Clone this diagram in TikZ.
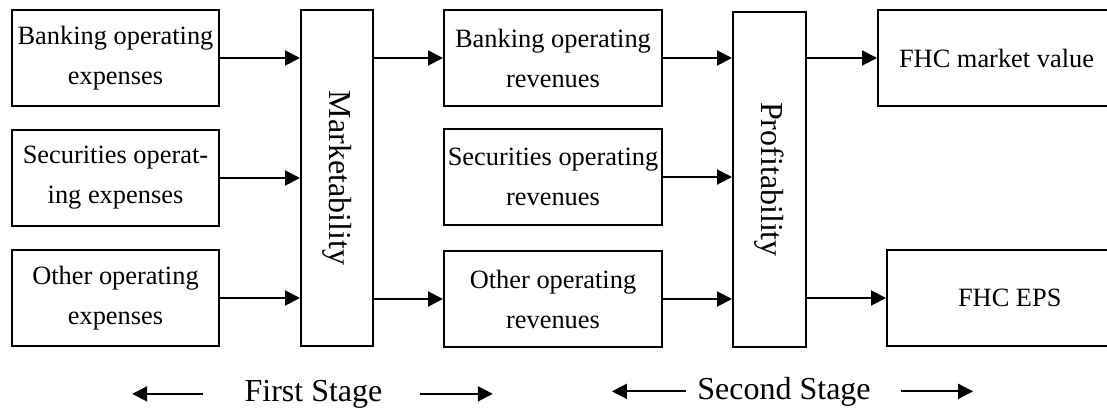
\documentclass[tikz,border=0pt]{standalone}
\usepackage{fontspec}
\usepackage{graphicx}
\setmainfont{Liberation Serif}
\usetikzlibrary{arrows.meta}
\tikzset{
	box/.style={draw, line width=1pt, inner sep=0pt, align=center, minimum height=48pt, font=\fontsize{13.2}{20}\selectfont},
	barbox/.style={draw, line width=1pt, inner sep=0pt, font=\fontsize{16}{19}\selectfont},
	flow/.style={line width=1pt, -{Triangle[length=7.5pt,width=7.5pt]}},
	stagelabel/.style={inner sep=0pt, anchor=base, font=\fontsize{16}{19}\selectfont},
}
\begin{document}
\begin{tikzpicture}[x=0.5pt,y=-0.5pt]
	\useasboundingbox (0,0) rectangle (1107,408);
	\clip (0,0) rectangle (1107,408);
	% inputs
	\node[box, minimum width=103.5pt] (bankexp) at (115.5,58) {Banking operating\\expenses};
	\node[box, minimum width=103.5pt] (secexp) at (115.5,178) {Securities operat-\\ing expenses};
	\node[box, minimum width=103.5pt] (othexp) at (115.5,298) {Other operating\\expenses};
	\node[barbox, minimum width=36pt, minimum height=168pt] (mkt) at (337,178) {\rotatebox{-90}{Marketability}};
	% intermediate outputs
	\node[box, minimum width=109pt] (bankrev) at (553,58) {Banking operating\\revenues};
	\node[box, minimum width=109pt] (secrev) at (553,177) {Securities operating\\revenues};
	\node[box, minimum width=109pt] (othrev) at (553,299) {Other operating\\revenues};
	\node[barbox, minimum width=36.5pt, minimum height=167.5pt] (prof) at (769.5,179.5) {\rotatebox{-90}{Profitability}};
	% final outputs (cut off at the right)
	\node[box, anchor=west, align=flush left, inner xsep=10.5pt, text width=119pt] (mktval) at (877,58) {FHC market value};
	\node[box, anchor=west, align=flush left, inner xsep=35.5pt, text width=69pt] (eps) at (886,298) {FHC EPS};
	% connectors
	\foreach \n in {bankexp, secexp, othexp}
		\draw[flow] (\n.east) -- (\n.east -| mkt.west);
	\foreach \n in {bankrev, othrev}
		\draw[flow] (mkt.east |- \n.west) -- (\n.west);
	\foreach \n in {bankrev, secrev, othrev}
		\draw[flow] (\n.east) -- (\n.east -| prof.west);
	\foreach \n in {mktval, eps}
		\draw[flow] (prof.east |- \n.west) -- (\n.west);
	% stages
	\node[stagelabel] (first) at (313.5,401) {First Stage};
	\node[stagelabel] (second) at (784,399) {Second Stage};
	\draw[flow] ([xshift=-20.5pt]first.west) -- ([xshift=-56pt]first.west);
	\draw[flow] ([xshift=18.5pt]first.east) -- ([xshift=55pt]first.east);
	\draw[flow] ([xshift=-5.5pt]second.west) -- ([xshift=-42.5pt]second.west);
	\draw[flow] ([xshift=15pt]second.east) -- ([xshift=51pt]second.east);
\end{tikzpicture}
\end{document}
